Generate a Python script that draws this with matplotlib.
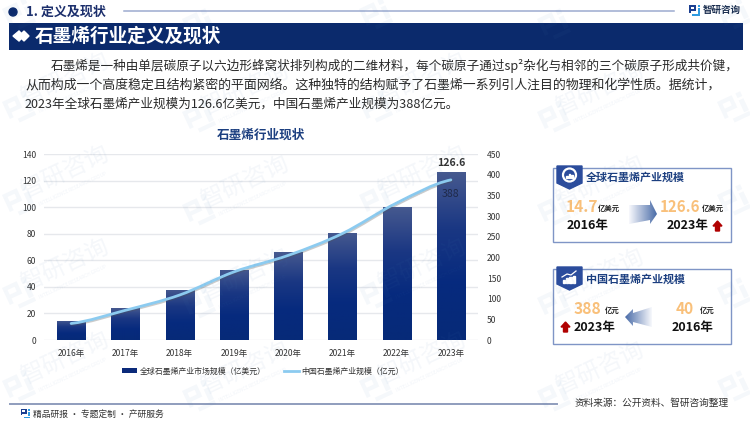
import matplotlib
matplotlib.use('Agg')
import matplotlib.pyplot as plt
import numpy as np
from matplotlib.patches import Polygon, Rectangle, Circle, Patch
from matplotlib.lines import Line2D
from matplotlib.path import Path
from matplotlib.patches import PathPatch
from matplotlib.colors import LinearSegmentedColormap
from matplotlib.transforms import Affine2D
import matplotlib.patheffects as pe

plt.rcParams['font.family'] = ['Noto Sans CJK SC', 'DejaVu Sans']

# dati del grafico
years = ['2016年', '2017年', '2018年', '2019年', '2020年', '2021年', '2022年', '2023年']
world_size = [14.7, 24, 38, 53, 66, 81, 100, 126.6]
china_size = [40, 72, 109, 165, 205, 258, 332, 388]
left_ticks = [0, 20, 40, 60, 80, 100, 120, 140]
right_ticks = [0, 50, 100, 150, 200, 250, 300, 350, 400, 450]
body_lines = [
    '石墨烯是一种由单层碳原子以六边形蜂窝状排列构成的二维材料，每个碳原子通过sp²杂化与相邻的三个碳原子形成共价键，',
    '从而构成一个高度稳定且结构紧密的平面网络。这种独特的结构赋予了石墨烯一系列引人注目的物理和化学性质。据统计，',
    '2023年全球石墨烯产业规模为126.6亿美元，中国石墨烯产业规模为388亿元。',
]

W, H = 750, 421
NAVY = '#0b2a6c'
TITLE_BLUE = '#1c3f80'
ORANGE = '#f9c07a'
DARK = '#222222'

fig = plt.figure(figsize=(7.5, 4.21), dpi=100, facecolor='white')

# sfondo in coordinate pixel
bg = fig.add_axes([0, 0, 1, 1], zorder=0)
bg.set_xlim(0, W)
bg.set_ylim(H, 0)
bg.axis('off')


def label(x, y, s, px, color=DARK, weight='normal', ha='left', axes=bg, **kw):
    return axes.text(x, y, s, fontsize=px * 0.72, color=color, fontweight=weight,
                     ha=ha, va='center', **kw)


def logo(axes, x, y, s, color1, color2, alpha=1.0, angle=0):
    # piccolo marchio a barre, x,y = angolo in alto a sinistra
    parts = [(0, 0, 0.62, 0.16, color1), (0, 0.16, 0.16, 0.56, color1), (0.16, 0.36, 0.46, 0.16, color1),
             (0.46, 0.16, 0.16, 0.2, color1), (0.78, 0, 0.2, 0.2, color2), (0.78, 0.3, 0.2, 0.5, color2),
             (0.28, 0.84, 0.7, 0.16, color2)]
    tr = Affine2D().rotate_deg(angle).translate(x, y) + axes.transData
    for px_, py_, w, h, c in parts:
        axes.add_patch(Rectangle((px_ * s, py_ * s), w * s, h * s, facecolor=c, edgecolor='none',
                                 alpha=alpha, transform=tr))


def grad_arrow(points, left_color, right_color):
    xs = [p[0] for p in points]
    ys = [p[1] for p in points]
    cmap = LinearSegmentedColormap.from_list('freccia', [left_color, right_color])
    im = bg.imshow(np.linspace(0, 1, 64).reshape(1, -1), cmap=cmap, aspect='auto',
                   extent=(min(xs), max(xs), max(ys), min(ys)), zorder=3)
    poly = Polygon(points, closed=True, facecolor='none', edgecolor='none', transform=bg.transData)
    bg.add_patch(poly)
    im.set_clip_path(poly)


# intestazione
bg.add_patch(Circle((13, 12), 4, color=NAVY))
label(26, 12, '1. 定义及现状', 13, color='#1c2f6c', weight='bold')
bg.plot([124, 674], [10.5, 10.5], color='#9dabcf', lw=1.1)
logo(bg, 689, 5, 11, '#1c3f90', '#2f9be0')
label(703, 10, '智研咨询', 9.5, color='#1c2f50', weight='bold')

# banner
bg.add_patch(Rectangle((9, 23), 734, 26.5, facecolor=NAVY, edgecolor='none'))
bg.add_patch(Polygon([(13, 36), (19, 31), (24, 36), (19, 41)], color='white'))
bg.add_patch(Polygon([(19, 36), (24, 31), (29, 36), (24, 41)], color='white'))
label(35, 36, '石墨烯行业定义及现状', 18.7, color='white', weight='bold')

# testo
label(51, 66, body_lines[0], 12.6, color='#2a2a2a')
label(25, 85, body_lines[1], 12.95, color='#2a2a2a')
label(25, 104, body_lines[2], 12.6, color='#2a2a2a')

label(261, 135, '石墨烯行业现状', 12.6, color=TITLE_BLUE, weight='bold', ha='center')

# riquadro 1
bg.add_patch(Rectangle((553, 168), 178, 74, facecolor='white', edgecolor='#7f95c6', lw=1))
bg.add_patch(Polygon([(557, 166), (582, 166), (582, 183), (569.5, 189), (557, 183)], color='#2b4c9c'))
bg.add_patch(Circle((569.5, 175), 6.5, facecolor='none', edgecolor='white', lw=1.6))
for i, h_ in enumerate([2, 4, 3]):
    bg.add_patch(Rectangle((566 + i * 2.6, 178 - h_), 1.8, h_, color='white'))
label(586, 177, '全球石墨烯产业规模', 11, color=TITLE_BLUE, weight='bold')
label(566, 207, '14.7', 15.5, color=ORANGE, weight='bold')
label(598, 208, '亿美元', 7.4, color=DARK, weight='bold')
label(660, 207, '126.6', 15, color=ORANGE, weight='bold')
label(702, 208, '亿美元', 7.4, color=DARK, weight='bold')
label(567, 226, '2016年', 12.5, color='#111111', weight='bold')
label(667, 226, '2023年', 12.5, color='#111111', weight='bold')
grad_arrow([(629, 205), (650, 205), (650, 200), (657, 214), (650, 224), (650, 220), (629, 224)],
           '#f7f8fc', '#4a6ca8')
bg.add_patch(Polygon([(713, 226), (717.5, 221), (722, 226), (719.5, 226), (719.5, 231), (715.5, 231), (715.5, 226)],
                     color='#b00000'))

# riquadro 2
bg.add_patch(Rectangle((553, 269), 178, 75, facecolor='white', edgecolor='#7f95c6', lw=1))
bg.add_patch(Polygon([(557, 267), (582, 267), (582, 284), (569.5, 290), (557, 284)], color='#2b4c9c'))
for i, h_ in enumerate([3, 5, 6, 7]):
    bg.add_patch(Rectangle((562.5 + i * 3.4, 283 - h_), 2.2, h_, color='white'))
bg.plot([562, 567, 571, 576], [277, 274, 275, 271], color='white', lw=0.9)
label(586, 279, '中国石墨烯产业规模', 11, color=TITLE_BLUE, weight='bold')
label(574, 309, '388', 15.5, color=ORANGE, weight='bold')
label(605, 310, '亿元', 7.4, color=DARK, weight='bold')
label(676, 309, '40', 15.5, color=ORANGE, weight='bold')
label(700, 310, '亿元', 7.4, color=DARK, weight='bold')
label(574, 328, '2023年', 12.5, color='#111111', weight='bold')
label(672, 328, '2016年', 12.5, color='#111111', weight='bold')
grad_arrow([(625, 317), (633, 309), (633, 313), (652, 307), (652, 327), (633, 322), (633, 326)],
           '#4a6ca8', '#f7f8fc')
bg.add_patch(Polygon([(561, 327), (565.5, 322), (570, 327), (567.5, 327), (567.5, 332), (563.5, 332), (563.5, 327)],
                     color='#b00000'))

# piede
bg.plot([10, 557], [404, 404], color='#8f9dbd', lw=1.4)
logo(bg, 21, 409, 9, '#1c3f90', '#2f9be0')
label(33, 414, '精品研报 · 专题定制 · 产研服务', 8.8, color='#333333')
label(575, 403, '资料来源：公开资料、智研咨询整理', 9.7, color='#333333')

# grafico: area 44-478 x, 154.3-340 y in pixel
ax = fig.add_axes([44 / W, 1 - 340 / H, 434 / W, 185.7 / H], zorder=1)
ax.patch.set_alpha(0)
x = np.arange(len(years))
bars = ax.bar(x, world_size, width=0.52, color='#0b2a7a', zorder=2)
cmap = LinearSegmentedColormap.from_list('barra', ['#46598f', '#1a3783', '#062a7e', '#072a78'])
for b in bars:
    im = ax.imshow(np.linspace(0, 1, 128).reshape(-1, 1), cmap=cmap, aspect='auto', zorder=3,
                   extent=(b.get_x(), b.get_x() + b.get_width(), 0, b.get_height()), origin='upper')
    im.set_clip_path(b)
ax.set_xlim(-0.5, len(years) - 0.5)
ax.set_ylim(0, 140)
ax.set_yticks(left_ticks)
ax.set_xticks(x, years)
ax.grid(axis='y', color='#e6e8ec', lw=1)
ax.set_axisbelow(True)
ax.tick_params(length=0, labelsize=6.1, labelcolor='#333333')
ax.tick_params(axis='x', pad=6.5)
ax.tick_params(axis='y', pad=5.8)
for s in ax.spines.values():
    s.set_visible(False)
ax.text(x[-1], world_size[-1] + 3, '126.6', fontsize=7.6, color='#333333', fontweight='bold',
        ha='center', va='bottom', zorder=6)

ax2 = ax.twinx()
ax2.set_zorder(2)
ax2.patch.set_alpha(0)
ax2.set_ylim(0, 450)
ax2.set_yticks(right_ticks)
ax2.tick_params(length=0, labelsize=6.1, labelcolor='#333333', pad=6.5)
for s in ax2.spines.values():
    s.set_visible(False)

# linea smussata con curve di Bezier sui valori
vals = np.array(china_size, dtype=float)
verts = [(x[0], vals[0])]
codes = [Path.MOVETO]
for i in range(len(vals) - 1):
    m0 = (vals[min(i + 1, len(vals) - 1)] - vals[max(i - 1, 0)]) / 2
    m1 = (vals[min(i + 2, len(vals) - 1)] - vals[i]) / 2
    verts += [(x[i] + 1 / 3, vals[i] + m0 / 3), (x[i + 1] - 1 / 3, vals[i + 1] - m1 / 3), (x[i + 1], vals[i + 1])]
    codes += [Path.CURVE4] * 3
ax2.add_patch(PathPatch(Path(verts, codes), facecolor='none', edgecolor='#8ccbf0', lw=2, capstyle='round',
                        path_effects=[pe.SimpleLineShadow(offset=(0.6, -0.8), shadow_color='#555555', alpha=0.3),
                                      pe.Normal()]))
ax2.text(x[-1], china_size[-1] - 34, '388', fontsize=7.6, color='#1f2a4a', ha='center', va='center', zorder=6)

# legenda
handles = [Patch(facecolor='#0b2a7a', edgecolor='none'), Line2D([], [], color='#8ccbf0', lw=2)]
fig.legend(handles, ['全球石墨烯产业市场规模（亿美元）', '中国石墨烯产业规模（亿元）'], ncols=2, frameon=False,
           loc='center', bbox_to_anchor=(263 / W, 1 - 371 / H), fontsize=5.7, labelcolor='#333333',
           handlelength=1.9, handleheight=0.5, handletextpad=0.3, columnspacing=2.3)

# filigrana sopra tutto
over = fig.add_axes([0, 0, 1, 1], zorder=5)
over.set_xlim(0, W)
over.set_ylim(H, 0)
over.axis('off')
WM = '#4a7fb5'
for col, cx in enumerate([10, 190, 367, 545, 725]):
    for row in range(-2, 3):
        cy = 195 + row * 93 + (col % 2) * 10
        logo(over, cx - 8, cy, 26, WM, WM, alpha=0.05, angle=-25)
        tx, ty = cx + 55, cy - 22
        # solo le scritte che stanno dentro la figura
        if 45 < tx < W - 45 and 30 < ty < H - 30:
            over.text(tx, ty, '智研咨询', fontsize=17, color=WM, alpha=0.06, rotation=25,
                      rotation_mode='anchor', ha='center', va='center')
            over.text(tx + 8, ty + 16, 'INTELLIGENCE RESEARCH GROUP', fontsize=3.4, color=WM, alpha=0.08, rotation=25,
                      rotation_mode='anchor', ha='center', va='center')

fig.savefig('out.png', dpi=100)
